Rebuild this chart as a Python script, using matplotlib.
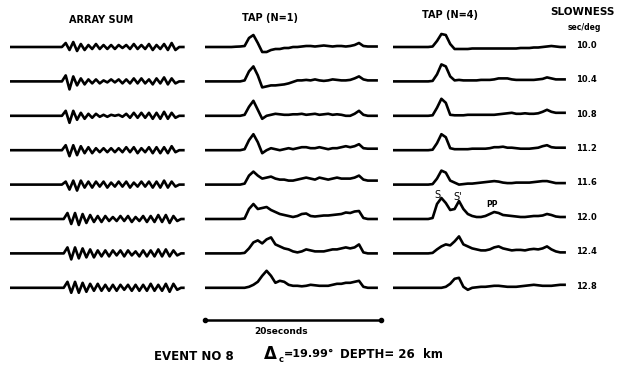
import numpy as np
import matplotlib.pyplot as plt

# slowness of each beam (sec/deg), one row per value
slowness = ["10.0", "10.4", "10.8", "11.2", "11.6", "12.0", "12.4", "12.8"]

# ARRAY SUM: onset (s) and successive peaks / troughs (amplitude in px)
sum_onset = [5.9, 5.9, 5.9, 5.9, 5.9, 6.1, 6.1, 6.1]
sum_half_period = 0.43
sum_end = 19.7
array_sum = [
    [0, 4, -3, 5, -4, 3, -3, 2, -2, 3, -2, 2, -2, 2, -2, 2, -1, 2, -2, 3,
     -2, 2, -2, 3, -3, 2, -2, 3, -3, 4, -3, 0],
    [0, 6, -8, 5, -4, 3, -3, 2, -2, 2, -2, 1, -1, 2, -1, 2, -2, 2, -2, 3,
     -2, 3, -2, 2, -3, 3, -2, 4, -3, 3, -2, 0],
    [0, 5, -7, 5, -4, 3, -3, 2, -2, 2, -1, 1, -1, 1, 0, 1, -1, 2, -2, 3,
     -2, 3, -2, 3, -3, 3, -3, 4, -3, 3, -2, 0],
    [0, 5, -6, 5, -5, 4, -3, 3, -3, 2, -2, 2, -2, 2, -2, 2, -2, 3, -2, 3,
     -3, 2, -2, 3, -3, 3, -3, 3, -3, 4, -2, 0],
    [0, 3, -5, 4, -6, 4, -3, 3, -3, 3, -2, 3, -3, 2, -2, 3, -2, 3, -3, 2,
     -2, 3, -2, 3, -3, 3, -3, 4, -3, 3, -2, 0],
    [0, 6, -5, 6, -6, 5, -4, 4, -3, 3, -3, 3, -2, 2, -2, 3, -2, 3, -3, 2,
     -2, 3, -3, 3, -3, 4, -3, 4, -4, 3, -2, 0],
    [0, 6, -6, 6, -5, 5, -4, 4, -4, 3, -3, 3, -3, 3, -2, 3, -3, 3, -2, 2,
     -3, 3, -3, 3, -3, 4, -3, 4, -3, 3, -2, 0],
    [0, 6, -5, 6, -5, 5, -4, 4, -3, 4, -3, 3, -3, 3, -3, 3, -2, 3, -3, 3,
     -3, 3, -3, 4, -3, 3, -3, 4, -4, 4, -2, 0],
]

# TAP beams, sampled every 0.5 s (amplitude in px)
tap_dt = 0.5
tap_n1 = [
    [0, 0, 0, 0, 0, 0, 0, 0.3, 0.5, 1, 9, 12, 4, -5, -5, -3, -2, -2, -1, -1,
     0, 0, 0.5, 1, 1, 0.5, 1, 1.5, 1, 0.5, 1, 1, 0.5, 1, 2, 4, 1, 0.5, 0.5, 0.5],
    [0, 0, 0, 0, 0, 0, 0, 0, 0, 1, 10, 15, 6, -6, -5, -4, -4, -3.5, -3, -2,
     -0.5, 1, 1, 1.5, 1, 2, 1, 0.5, 1, 2, 1.5, 1, 1, 1.5, 3, 5, 2, 1, 1, 1],
    [0, 0, 0, 0, 0, 0, 0, 0, 0, 1, 9, 15, 6, -3, 0, 1, 2, 1.5, 1, 1,
     1.5, 1.5, 2, 1, 1.5, 2, 1, 1.5, 2, 1, 1.5, 1, 0, 0, 2, 5, 1, 0, 0, 0],
    [0, 0, 0, 0, 0, 0, 0, 0, 0, 1, 10, 16, 8, -3, 0, 2, 1, 0, 1, 2,
     1, 2, 3, 3, 2, 2, 3, 2, 1, 2, 2, 3, 4, 3, 4, 6, 2, 1.5, 1.5, 1.5],
    [0, 0, 0, 0, 0, 0, 0, 0, 0, 1, 9, 13, 9, 6, 7, 8, 6, 5, 5, 4,
     4, 5, 6, 7, 6, 5, 7, 6, 5, 6, 7, 6, 6, 6, 7, 9, 5, 4, 4, 4],
    [0, 0, 0, 0, 0, 0, 0, 0, 0, 0.5, 10, 15, 10, 11, 12, 9, 7, 5, 4, 3,
     2, 3, 5, 5.5, 3, 2.5, 3, 3.5, 3.5, 4, 4.5, 5, 6.5, 6, 7.5, 8, 1, 0, 0, 0],
    [0, 0, 0, 0, 0, 0, 0, 0, 0, 0.5, 5, 11, 13, 10, 14, 16, 9, 7, 5, 4,
     2, 1, 2, 4, 3, 2, 2, 2, 3, 4, 4, 5, 6, 5, 6, 9, 1, 0, 0, 0],
    [0, 0, 0, 0, 0, 0, 0, 0, 0, 0, 1, 3, 6, 12, 17, 12, 5, 7, 6, 3,
     2, 2, 1.5, 2, 3, 2.5, 2, 2, 2, 3, 4, 4, 5, 5, 6, 7, 1, 0, 0, 0],
]
tap_n4 = [
    [0, 0, 0, 0, 0, 0, 0, 0, 0, 0.5, 6, 13, 12, 3, -2, -2, -2, -2, -1.5, -1.5,
     -1.5, -1.5, -1.5, -1.5, -1.5, -1.5, -1.5, -1.5, -1.5, -1, -1, -1, -0.5, -0.5, 0, 0.5, 1, 0.5, 0, 0],
    [0, 0, 0, 0, 0, 0, 0, 0, 0, 0.5, 7, 17, 15, 5, 1, 1.5, 1, 1, 1, 1,
     1.5, 1.5, 1.5, 2, 3, 3, 3, 2, 1.5, 1.5, 1.5, 1.5, 1.5, 2, 2.5, 4, 3, 2, 2, 2],
    [0, 0, 0, 0, 0, 0, 0, 0, 0, 0.5, 8, 17, 13, 1, 0.5, 0.5, 0.5, 1, 1, 1,
     1, 1, 1, 1, 1.5, 2, 2.5, 3, 2, 2, 2.5, 2, 2, 2.5, 4, 6, 4, 3, 3, 3],
    [0, 0, 0, 0, 0, 0, 0, 0, 0, 0.5, 7, 16, 13, 2, 1, 1, 1, 1, 1.5, 1.5,
     1.5, 1.5, 2, 3, 3, 3.5, 2.5, 2.5, 2, 1.5, 1.5, 1.5, 2, 2.5, 4, 5, 3, 2.5, 2.5, 2.5],
    [0, 0, 0, 0, 0, 0, 0, 0, 0, 0.5, 6, 14, 12, 4, 2, 0, 0.5, 1, 1, 1.5,
     2, 2.5, 3, 3.5, 3, 2, 1.5, 1.5, 2, 2, 2, 2, 2.5, 3, 3.5, 3.5, 2.5, 1.5, 1.5, 1.5],
    [0, 0, 0, 0, 0, 0, 0, 0, 0, 1, 15, 21, 16, 9, 10, 18, 10, 5, 3, 2,
     2, 3, 5, 7, 6, 4, 3.5, 3, 2.5, 2, 2, 2.5, 3, 3, 3.5, 5, 4, 2.5, 2, 2],
    [0, 0, 0, 0, 0, 0, 0, 0, 0, 0.5, 4, 7, 9, 8, 12, 17, 9, 7, 5, 4,
     3, 3, 4, 6, 7, 5, 4, 3, 3.5, 3.5, 3, 4, 4.5, 4, 5, 7, 4, 2, 1, 1],
    [0, 0, 0, 0, 0, 0, 0, 0, 0, 0, 0, 0, 1, 4, 9, 10, 1, -2, 0, 0.5,
     1, 1, 1.5, 2, 2, 1.5, 1, 1, 1, 1.5, 2, 2.5, 3, 2.5, 2, 2, 2, 2.5, 3, 3],
]

headers = ["ARRAY SUM", "TAP (N=1)", "TAP (N=4)"]
scale_seconds = 20

# layout (pixels of the 622x372 picture)
W, H = 622, 372
ROW_PX = 34.4          # distance between traces
SEC_PX = 8.8           # horizontal scale
col_left = [10, 205, 393]
top_px, bottom_px, first_row_px = 25, 310, 47

fig = plt.figure(figsize=(W / 100, H / 100), dpi=100)
fig.patch.set_facecolor("white")

axes = []
for x0 in col_left:
    ax = fig.add_axes([x0 / W, 1 - bottom_px / H,
                       scale_seconds * SEC_PX / W, (bottom_px - top_px) / H])
    ax.set_xlim(0, scale_seconds)
    ax.set_ylim(-7 - (bottom_px - first_row_px - 7 * ROW_PX) / ROW_PX,
                (first_row_px - top_px) / ROW_PX)
    ax.axis("off")
    axes.append(ax)

lw = 1.9
for k in range(len(slowness)):
    # array sum: zigzag through the peaks and troughs
    t = sum_onset[k] + sum_half_period * np.arange(len(array_sum[k]))
    t = np.concatenate([[0], t, [sum_end]])
    a = np.concatenate([[0], array_sum[k], [0]])
    axes[0].plot(t, a / ROW_PX - k, color="black", lw=lw, solid_joinstyle="round")

    t = tap_dt * np.arange(len(tap_n1[k]))
    axes[1].plot(t, np.array(tap_n1[k]) / ROW_PX - k, color="black", lw=lw,
                 solid_joinstyle="round")
    t = tap_dt * np.arange(len(tap_n4[k]))
    axes[2].plot(t, np.array(tap_n4[k]) / ROW_PX - k, color="black", lw=lw,
                 solid_joinstyle="round")

    axes[2].text(22.0, -k + 0.05, slowness[k], ha="center", va="center",
                 fontsize=6, fontweight="bold", clip_on=False)

# phase labels on the 12.0 beam
axes[2].text(5.1, -5 + 24 / ROW_PX, "S", fontsize=7, ha="center", va="center")
axes[2].text(7.4, -5 + 22 / ROW_PX, "S'", fontsize=7, ha="center", va="center")
axes[2].text(11.2, -5 + 14 / ROW_PX, "PP", fontsize=5.5, fontweight="bold",
             ha="center", va="center")

# 20 second scale bar under the middle column
bar_y = -7 - (320 - 288) / ROW_PX
axes[1].plot([0, scale_seconds], [bar_y, bar_y], color="black", lw=1.8,
             marker="o", markersize=3, clip_on=False)
axes[1].text(8.6, bar_y - 12 / ROW_PX, "20seconds", ha="center", va="center",
             fontsize=6.5, fontweight="bold")

# headers
fig.text(101 / W, 1 - 20 / H, headers[0], ha="center", va="center",
         fontsize=7, fontweight="bold")
fig.text(270 / W, 1 - 18 / H, headers[1], ha="center", va="center",
         fontsize=7, fontweight="bold")
fig.text(450 / W, 1 - 15 / H, headers[2], ha="center", va="center",
         fontsize=7, fontweight="bold")
fig.text(582 / W, 1 - 12 / H, "SLOWNESS", ha="center", va="center",
         fontsize=7.5, fontweight="bold")
fig.text(584 / W, 1 - 27 / H, "sec/deg", ha="center", va="center",
         fontsize=5.5, fontweight="bold")

# event line
fig.text(194 / W, 1 - 356 / H, "EVENT NO 8", ha="center", va="center",
         fontsize=8.5, fontweight="bold")
fig.text(263 / W, 1 - 354 / H, r"$\mathbf{\Delta}$", ha="left", va="center",
         fontsize=12)
fig.text(279 / W, 1 - 360 / H, "c", ha="left", va="center",
         fontsize=6, fontweight="bold")
fig.text(284 / W, 1 - 354 / H, "=19.99°", ha="left", va="center",
         fontsize=8, fontweight="bold")
fig.text(340 / W, 1 - 355 / H, "DEPTH= 26  km", ha="left", va="center",
         fontsize=8.5, fontweight="bold")

fig.savefig("out.png", dpi=100, facecolor="white")
